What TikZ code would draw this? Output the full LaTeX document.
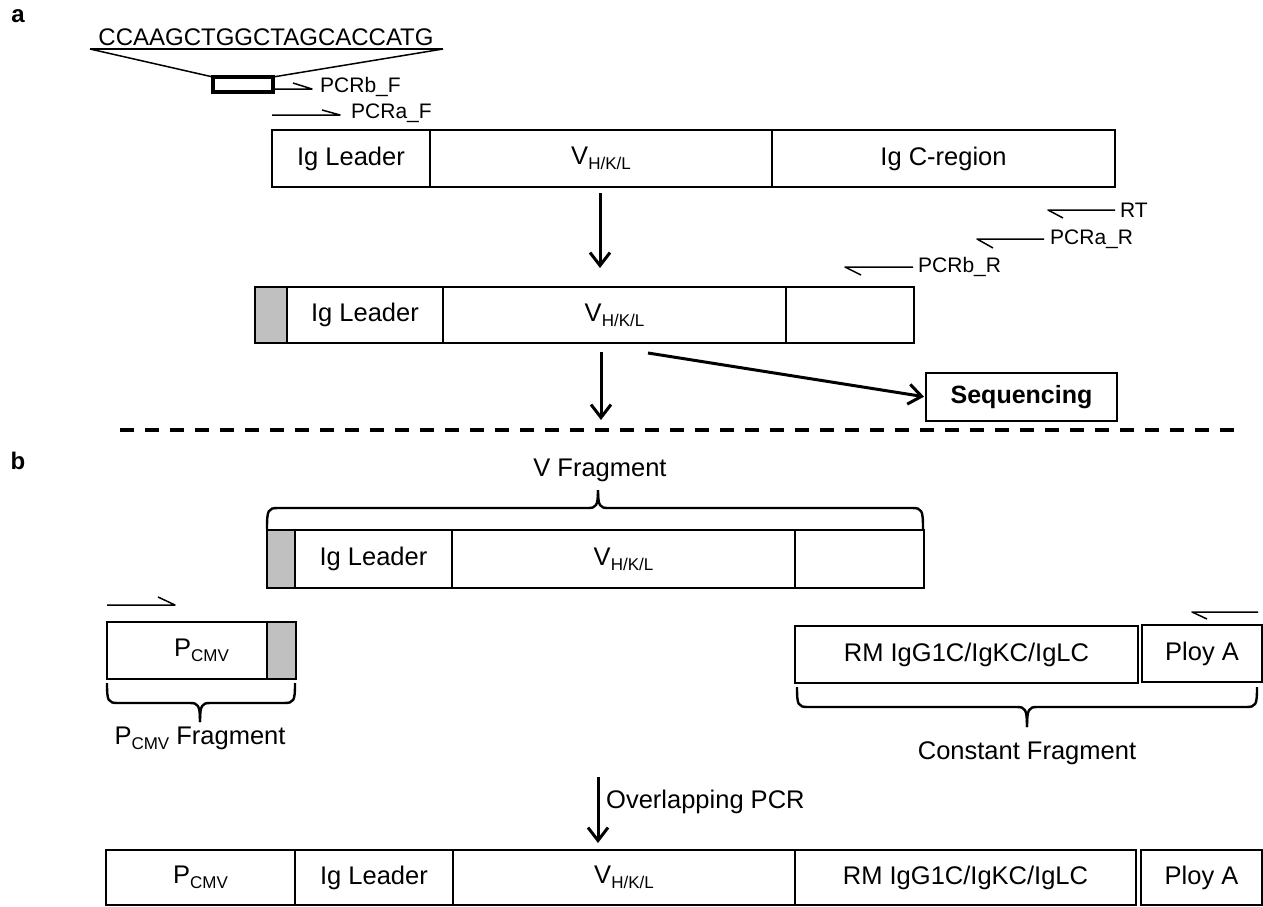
\documentclass[tikz,border=0pt]{standalone}
\usepackage{fontspec}
\setmainfont{Liberation Sans}
\usetikzlibrary{arrows.meta,calc}
\definecolor{fillgray}{RGB}{192,192,192}
\newcommand{\lowtxt}[1]{\raisebox{-5pt}{\fontsize{17}{17}\selectfont #1}}
\begin{document}
\begin{tikzpicture}[x=1pt,y=-1pt,
  cell/.style={draw, line width=2.2pt, rectangle, inner sep=0pt, outer sep=0pt, font=\fontsize{25.5}{28}\selectfont},
  graycell/.style={cell, fill=fillgray},
  lbl/.style={inner sep=0pt, font=\fontsize{21}{24}\selectfont},
  biglbl/.style={inner sep=0pt, font=\fontsize{25.5}{28}\selectfont},
  panel/.style={inner sep=0pt, font=\fontsize{24}{26}\selectfont\bfseries},
  primer/.style={line width=1.5pt, line join=round},
  bracestyle/.style={line width=2.4pt, line join=round},
  bigarrow/.style={line width=3pt, -{Straight Barb[length=13pt,width=20pt]}},
]
\useasboundingbox (0,0) rectangle (1263,907);

% ---------------- panel a ----------------
\node[panel] (pa) at (18,16) {a};
\node[inner sep=0pt, anchor=base, font=\fontsize{24}{26}\selectfont] (seqtxt) at (266,46) {CCAAGCTGGCTAGCACCATG};
\coordinate (zl) at (90,49);
\coordinate (zr) at (443,49);
\node[draw, line width=4pt, inner sep=0pt, outer sep=0pt, minimum width=60pt, minimum height=15pt] (mark) at (243,84.5) {};
\draw[line width=1.5pt] (zl) -- (zr);
\draw[line width=1.5pt] (zl) -- (mark.north west);
\draw[line width=1.5pt] (zr) -- (mark.north east);

\draw[primer] (273,89) -- (312,89) -- (293,83);
\node[lbl, anchor=west] (pcrbf) at (320,87) {PCRb\_F};
\draw[primer] (272,115) -- (340,115) -- (322,110);
\node[lbl, anchor=west] (pcraf) at (351,113) {PCRa\_F};

% top row
\node[cell, minimum width=158pt, minimum height=57pt] (tlead) at (351,158.5) {Ig Leader};
\node[cell, minimum width=342pt, minimum height=57pt] (tv) at (601,158.5) {V\lowtxt{H/K/L}};
\node[cell, minimum width=343pt, minimum height=57pt] (tc) at (943.5,158.5) {Ig C-region};

% reverse primers
\draw[primer] (1115,210) -- (1048,210) -- (1063,218);
\node[lbl, anchor=west] (rt) at (1120,210) {RT};
\draw[primer] (1044,239) -- (977,239) -- (993,248);
\node[lbl, anchor=west] (pcrar) at (1050,239) {PCRa\_R};
\draw[primer] (913,267) -- (845,267) -- (861,275);
\node[lbl, anchor=west] (pcrbr) at (918,267) {PCRb\_R};

\coordinate (a1s) at (600,193);
\coordinate (a1e) at (600,268);
\draw[bigarrow] (a1s) -- (a1e);

% second row
\node[graycell, minimum width=32pt, minimum height=56pt] (sgray) at (271,315) {};
\node[cell, minimum width=156pt, minimum height=56pt] (slead) at (365,315) {Ig Leader};
\node[cell, minimum width=343pt, minimum height=56pt] (sv) at (614.5,315) {V\lowtxt{H/K/L}};
\node[cell, minimum width=128pt, minimum height=56pt] (sc) at (850,315) {};

\coordinate (a2s) at (601,352);
\coordinate (a2e) at (601,420);
\draw[bigarrow] (a2s) -- (a2e);

\node[cell, minimum width=191pt, minimum height=48pt, font=\fontsize{25}{28}\selectfont\bfseries] (seq) at (1021.5,397) {Sequencing};
\coordinate (sas) at (648,353);
\draw[bigarrow, shorten >=2pt] (sas) -- (seq.west);

% divider
\coordinate (dl) at (120,430);
\coordinate (dr) at (1237,430);
\draw[line width=4pt, dash pattern=on 14pt off 11pt] (dl) -- (dr);

% ---------------- panel b ----------------
\node[panel] (pb) at (18,461) {b};

\node[biglbl] (vfrag) at (600,470) {V Fragment};
\draw[bracestyle] (267,529) .. controls (267,510) and (268,508) .. (278,508) -- (588,508) .. controls (596,508) and (598,506) .. (598,490);
\draw[bracestyle] (923,529) .. controls (923,510) and (922,508) .. (912,508) -- (608,508) .. controls (600,508) and (598,506) .. (598,490);

\node[graycell, minimum width=28pt, minimum height=58pt] (vgray) at (281,559) {};
\node[cell, minimum width=157pt, minimum height=58pt] (vlead) at (373.5,559) {Ig Leader};
\node[cell, minimum width=343pt, minimum height=58pt] (vv) at (623.5,559) {V\lowtxt{H/K/L}};
\node[cell, minimum width=129pt, minimum height=58pt] (vc) at (859.5,559) {};

% P_CMV fragment
\draw[primer] (107,605) -- (175,605) -- (158,597);
\node[cell, minimum width=189pt, minimum height=57pt] (pcmv) at (201.5,650.5) {P\lowtxt{CMV}};
\node[graycell, minimum width=29pt, minimum height=57pt] (pgray) at (281.5,650.5) {};
\draw[bracestyle] (107,683) .. controls (107,701) and (108,703) .. (118,703) -- (190,703) .. controls (198,703) and (200,705) .. (200,722);
\draw[bracestyle] (295,683) .. controls (295,701) and (294,703) .. (284,703) -- (210,703) .. controls (202,703) and (200,705) .. (200,722);
\node[biglbl] (pfrag) at (200,738) {P\lowtxt{CMV} Fragment};

% constant fragment
\draw[primer] (1258,612) -- (1192,612) -- (1207,619);
\node[cell, minimum width=343pt, minimum height=57pt] (rm) at (966.5,654.5) {RM IgG1C/IgKC/IgLC};
\node[cell, minimum width=120pt, minimum height=57pt] (ploy) at (1202,653.5) {Ploy A};
\draw[bracestyle] (797,687) .. controls (797,705) and (798,707) .. (808,707) -- (1017,707) .. controls (1025,707) and (1027,709) .. (1027,727);
\draw[bracestyle] (1257,687) .. controls (1257,705) and (1256,707) .. (1246,707) -- (1037,707) .. controls (1029,707) and (1027,709) .. (1027,727);
\node[biglbl] (cfrag) at (1027,753) {Constant Fragment};

% overlapping PCR
\coordinate (a3s) at (598,777);
\coordinate (a3e) at (598,843);
\draw[bigarrow] (a3s) -- (a3e);
\node[biglbl, anchor=west] (olap) at (606,802) {Overlapping PCR};

% bottom row
\node[cell, minimum width=189pt, minimum height=55pt] (bp) at (200.5,877.5) {P\lowtxt{CMV}};
\node[cell, minimum width=158pt, minimum height=55pt] (blead) at (374,877.5) {Ig Leader};
\node[cell, minimum width=342pt, minimum height=55pt] (bv) at (624,877.5) {V\lowtxt{H/K/L}};
\node[cell, minimum width=341pt, minimum height=55pt] (brm) at (965.5,877.5) {RM IgG1C/IgKC/IgLC};
\node[cell, minimum width=121pt, minimum height=55pt] (bploy) at (1201.5,877.5) {Ploy A};
\end{tikzpicture}
\end{document}
